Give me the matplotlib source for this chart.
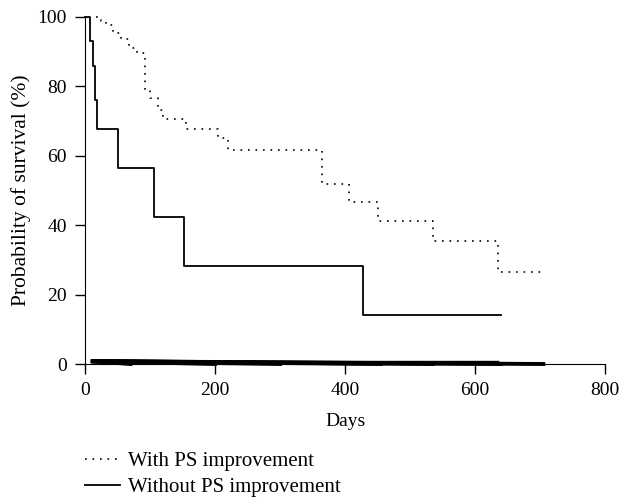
import numpy as np
import matplotlib
matplotlib.use("Agg")
from matplotlib import pyplot as plt

plt.rcParams['font.family'] = ['Liberation Serif', 'DejaVu Serif']

# Kaplan-Meier steps (days, survival %)
with_days = [17, 25, 33, 43, 55, 68, 80, 93, 100, 113, 120, 155, 205, 220, 365, 406, 451, 535, 636, 703]
with_surv = [100, 98.8, 97.6, 95.2, 93.5, 91, 89.5, 79, 76.6, 73, 70.5, 67.6, 65, 61.5, 51.8, 46.6, 41.3, 35.4, 26.6, 26.6]

without_days = [0, 8, 12, 15.5, 18.5, 50, 106, 152, 427, 640]
without_surv = [100, 92.9, 85.7, 76.0, 67.6, 56.3, 42.2, 28.1, 14.1, 14.1]

# messy band of censor marks along the bottom
band_start = 12
band_ends = [70, 200, 300, 455, 535, 640, 705]
band_top_end = 636

xticks = [0, 200, 400, 600, 800]
yticks = [0, 20, 40, 60, 80, 100]

fig = plt.figure(figsize=(6.22, 4.97), dpi=100)
ax = fig.add_axes([0.1367, 0.2676, 0.836, 0.6988])

l1, = ax.step(with_days, with_surv, where='post', color='black', lw=1.2,
              linestyle=(0, (1, 3.5)), clip_on=False)
l2, = ax.step(without_days, without_surv, where='post', color='black', lw=1.3,
              clip_on=False)

# band near zero
ax.plot([10, band_top_end], [1.0, 1.0], color='black', lw=1.0, clip_on=False)
for e in band_ends:
    ax.plot([band_start, e], [0.8, 0.0], color='black', lw=2.8, clip_on=False)

ax.set_xlim(0, 800)
ax.set_ylim(0, 100)
ax.set_xticks(xticks)
ax.set_yticks(yticks)
for s in ['top', 'right']:
    ax.spines[s].set_visible(False)
ax.tick_params(length=7, width=1, labelsize=14, pad=6)
ax.set_xlabel('Days', fontsize=14, labelpad=10)
ax.set_ylabel('Probability of survival (%)', fontsize=15.5, labelpad=5)

fig.legend([l1, l2], ['With PS improvement', 'Without PS improvement'],
           loc='upper left', bbox_to_anchor=(0.136, 0.091), frameon=False,
           fontsize=15, handlelength=1.68, handletextpad=0.39, labelspacing=0.3,
           borderaxespad=0, borderpad=0)

fig.savefig('out.png', dpi=100)
